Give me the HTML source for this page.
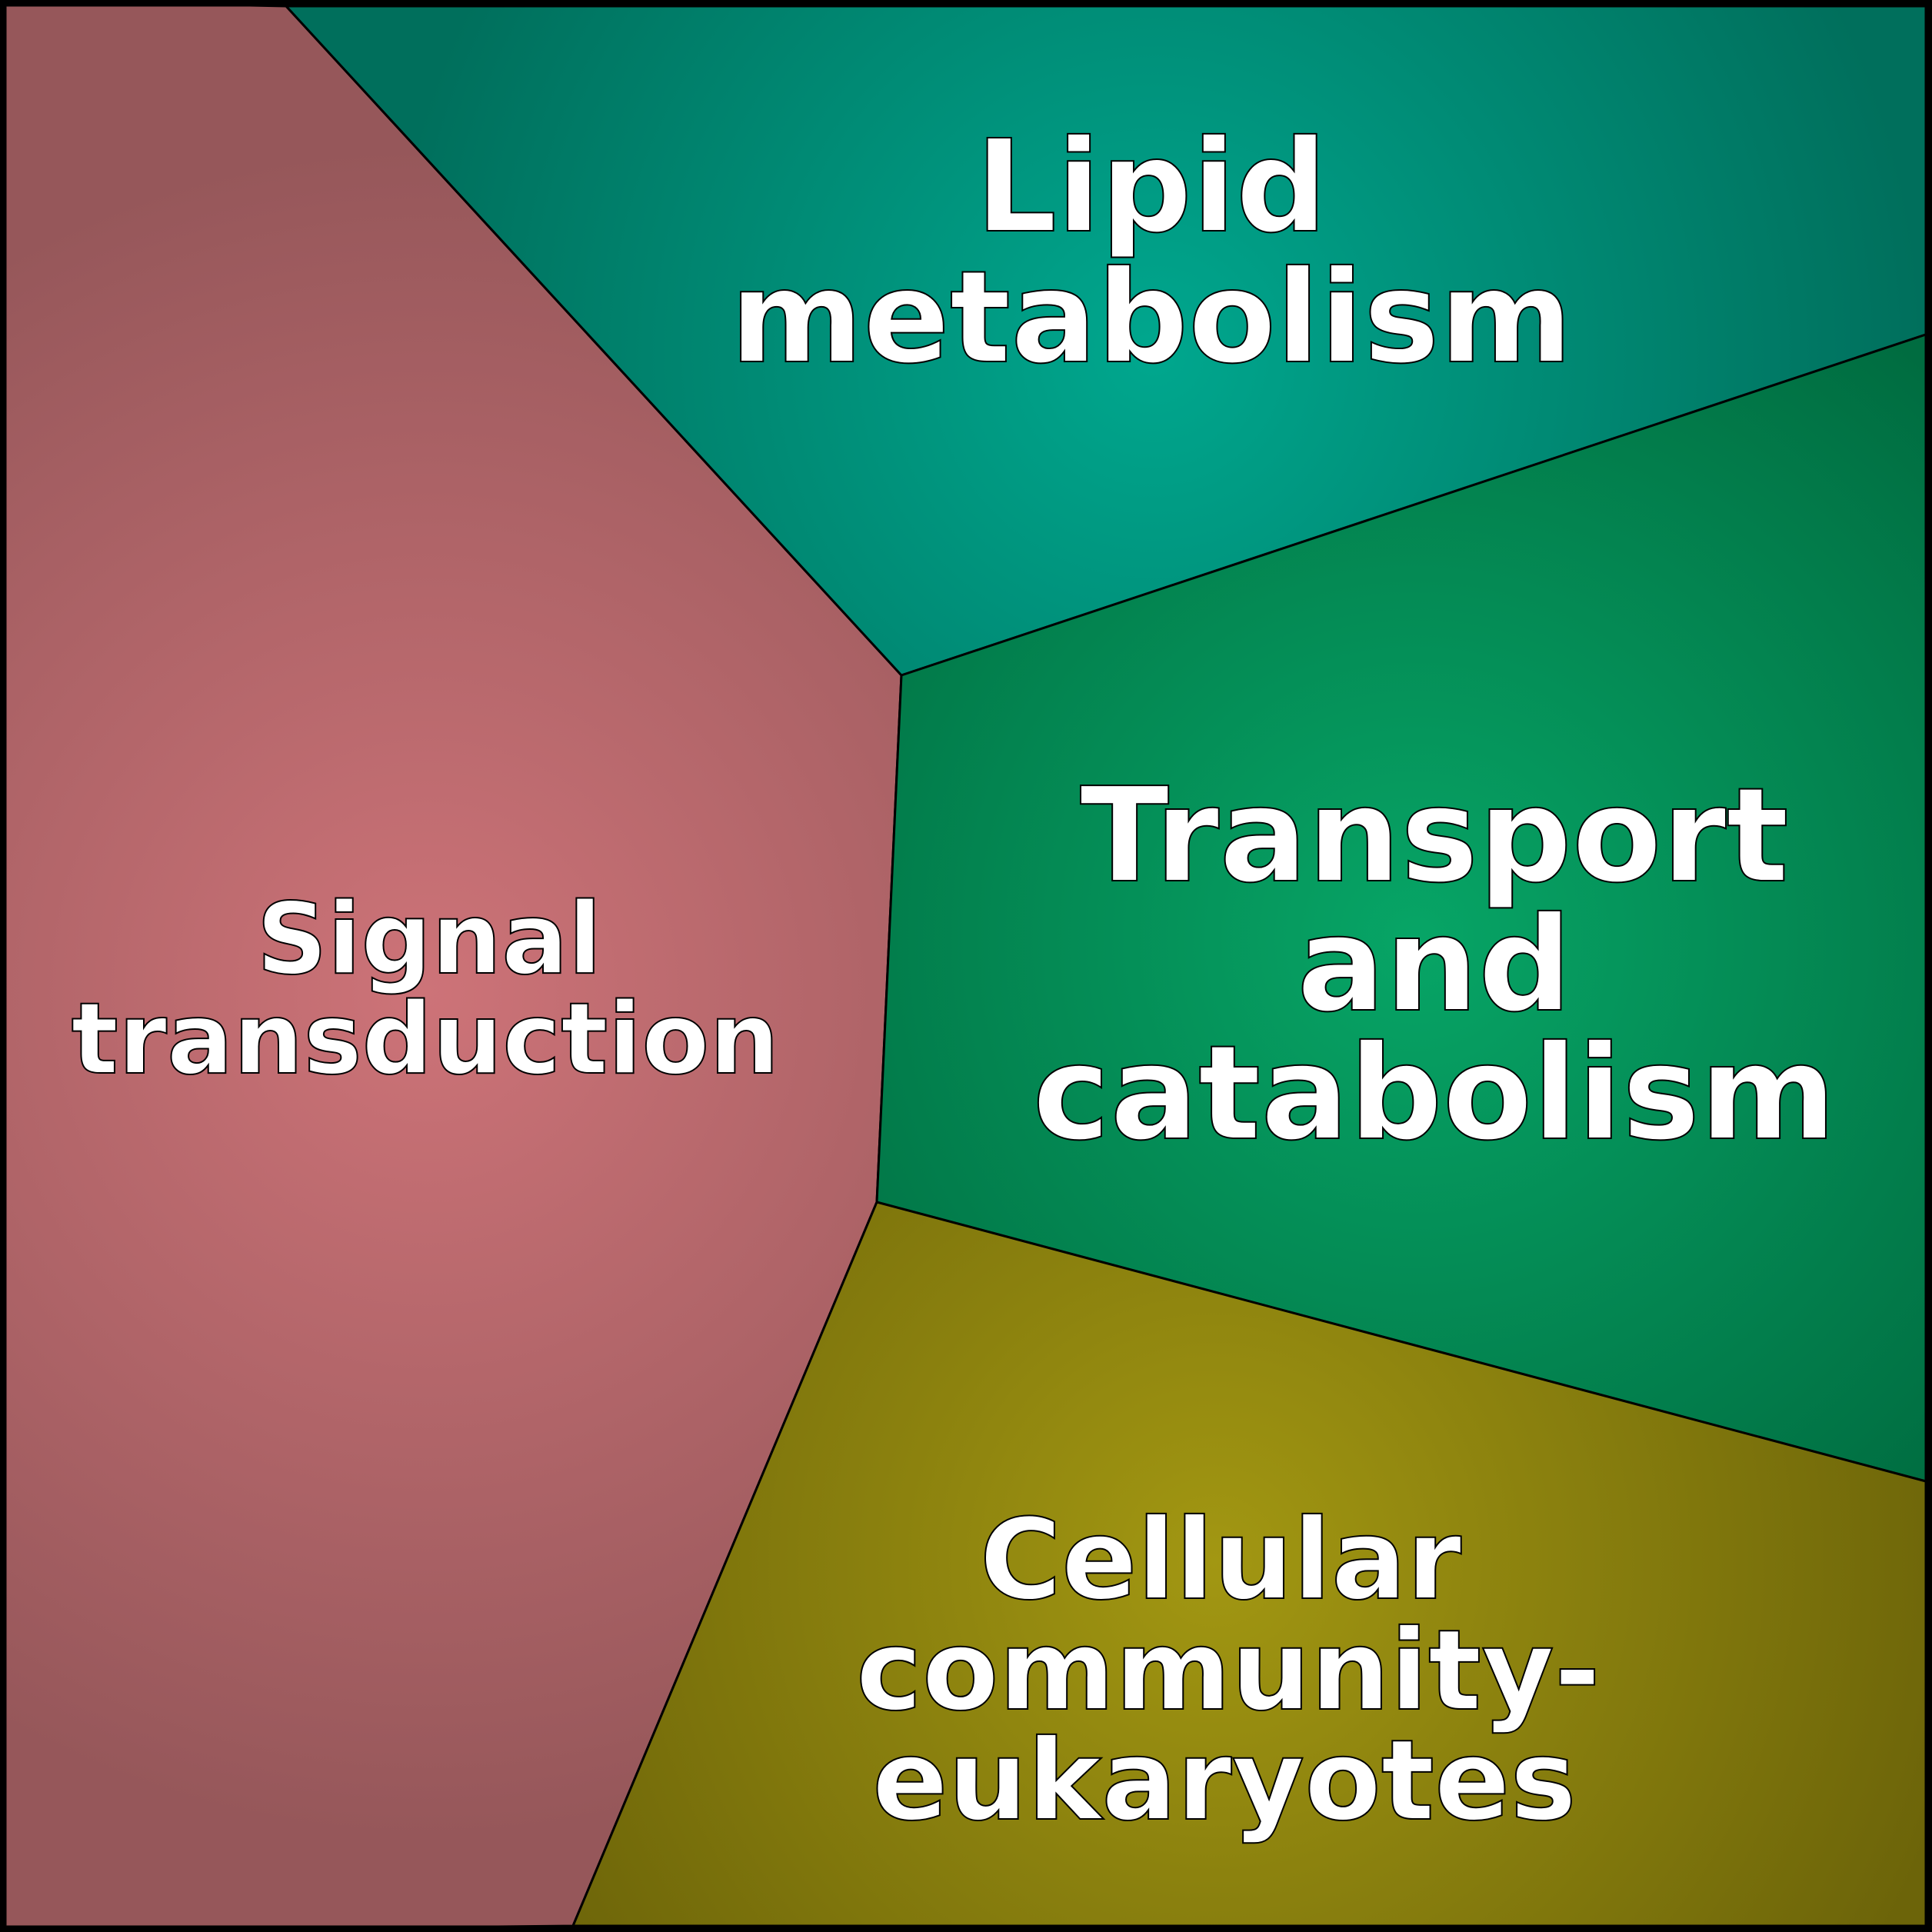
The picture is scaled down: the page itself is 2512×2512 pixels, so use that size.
<!DOCTYPE html>
<html><head><meta charset="utf-8"><style>html,body{margin:0;padding:0;background:#fff}svg{display:block}</style></head>
<body>
<svg width="2512" height="2512" viewBox="0 0 2512 2512" xmlns="http://www.w3.org/2000/svg">
<defs>
<radialGradient id="gp" cx="555" cy="1290" r="1100" gradientUnits="userSpaceOnUse"><stop offset="0" stop-color="#cd7378"/><stop offset="1" stop-color="#96575a"/></radialGradient>
<radialGradient id="gl" cx="1500" cy="460" r="1000" gradientUnits="userSpaceOnUse"><stop offset="0" stop-color="#00a78e"/><stop offset="1" stop-color="#006f5c"/></radialGradient>
<radialGradient id="gt" cx="1840" cy="1220" r="1000" gradientUnits="userSpaceOnUse"><stop offset="0" stop-color="#07a566"/><stop offset="1" stop-color="#006c40"/></radialGradient>
<radialGradient id="gc" cx="1580" cy="2030" r="1000" gradientUnits="userSpaceOnUse"><stop offset="0" stop-color="#a29712"/><stop offset="1" stop-color="#6c6409"/></radialGradient>
</defs>
<g stroke="#000" stroke-width="3">
<polygon points="0,0 372,8 1172,878 1140,1563 745,2504 0,2512" fill="url(#gp)"/>
<polygon points="372,8 2504,8 2504,435 1172,878" fill="url(#gl)"/>
<polygon points="1172,878 2504,435 2504,1926 1140,1563" fill="url(#gt)"/>
<polygon points="1140,1563 2504,1926 2504,2504 745,2504" fill="url(#gc)"/>
</g>
<rect x="4" y="4" width="2504" height="2504" fill="none" stroke="#000" stroke-width="9"/>
<g font-family="DejaVu Sans, Liberation Sans, sans-serif" font-weight="bold" fill="#fff" stroke="#000" stroke-width="2" text-anchor="middle">
<text font-size="166" x="1497" y="300">Lipid</text>
<text font-size="166" x="1497" y="470">metabolism</text>
<text font-size="170" x="1865" y="1145">Transport</text>
<text font-size="170" x="1865" y="1313">and</text>
<text font-size="170" x="1865" y="1480">catabolism</text>
<text font-size="128" x="558" y="1265">Signal</text>
<text font-size="128" x="553" y="1395">transduction</text>
<text font-size="145" x="1587" y="2078">Cellular</text>
<text font-size="145" x="1597" y="2222">community-</text>
<text font-size="145" x="1592" y="2365">eukaryotes</text>
</g>
</svg>
</body></html>
